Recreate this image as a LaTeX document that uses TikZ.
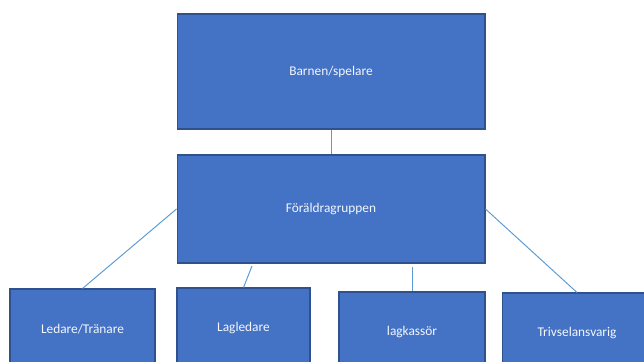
\documentclass[tikz,border=0pt]{standalone}
\usepackage{fontspec}
\setmainfont{Carlito}
\usepackage{tikz}

\definecolor{boxblue}{HTML}{4472C4}
\definecolor{boxedge}{HTML}{2F528F}
\definecolor{linkblue}{HTML}{5B9BD5}

\tikzset{
  rolebox/.style={rectangle,draw=boxedge,line width=0.6pt,fill=boxblue,
    text=white!94!boxblue,font=\fontsize{7.6}{9}\selectfont,inner sep=0pt},
  link/.style={draw=linkblue,line width=0.55pt}
}

\begin{document}
\begin{tikzpicture}[x=0.02cm,y=-0.02cm]
\useasboundingbox (0,0) rectangle (644,361);
\clip (0,0) rectangle (644,361);

\node[rolebox,minimum width=6.16cm,minimum height=2.3cm] (barn) at (331,71.5) {Barnen/spelare};
\node[rolebox,minimum width=6.16cm,minimum height=2.16cm] (foraldra) at (331,209) {Föräldragruppen};

\node[rolebox,minimum width=2.9cm,minimum height=1.6cm] (ledare) at (82.5,329) {Ledare/Tränare};
\node[rolebox,minimum width=2.66cm,minimum height=1.6cm] (lagledare) at (243.5,328) {Lagledare};
\node[rolebox,minimum width=2.92cm,minimum height=1.6cm] (kassor) at (412,332) {lagkassör};
\node[rolebox,minimum width=3cm,minimum height=1.6cm] (trivsel) at (577,333) {Trivselansvarig};

% free ends just under the middle box
\coordinate (lagledtop) at (252,266);
\coordinate (kassortop) at (412,267);

\draw[link] (barn.south) -- (foraldra.north);
\draw[link] (foraldra.west) -- (ledare.north);
\draw[link] (lagledtop) -- (lagledare.north);
\draw[link] (kassortop) -- (kassor.north);
\draw[link] (foraldra.east) -- (trivsel.north);
\end{tikzpicture}
\end{document}
